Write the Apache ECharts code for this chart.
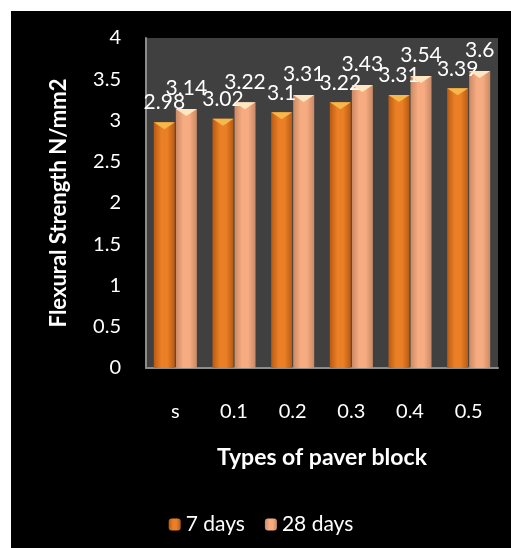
<!DOCTYPE html>
<html>
<head>
<meta charset="utf-8">
<script src="https://cdn.jsdelivr.net/npm/echarts@6/dist/echarts.min.js"></script>
<style>
  html, body { margin: 0; padding: 0; background: #fff; }
  #chart { position: absolute; left: 11px; top: 11px; width: 500px; height: 537px; background: #000; }
</style>
</head>
<body>
<div id="chart"></div>
<script>
  // 数据
  const categories = ['s', '0.1', '0.2', '0.3', '0.4', '0.5'];
  const days7 = [2.98, 3.02, 3.1, 3.22, 3.31, 3.39];
  const days28 = [3.14, 3.22, 3.31, 3.43, 3.54, 3.6];
  const seriesNames = ['7 days', '28 days'];

  const font = 'Lato, "Open Sans", sans-serif';

  // 柱体横向渐变
  function barGrad(edge, mid) {
    return new echarts.graphic.LinearGradient(0, 0, 1, 0, [
      { offset: 0, color: edge },
      { offset: 0.35, color: mid },
      { offset: 0.65, color: mid },
      { offset: 1, color: edge }
    ]);
  }
  const orange = barGrad('#b85a14', '#ea7f25');
  const peach = barGrad('#c98a66', '#f6ab80');

  const chart = echarts.init(document.getElementById('chart'));
  chart.setOption({
    backgroundColor: '#000',
    animation: false,
    grid: { left: 135, right: 13, top: 27, bottom: 180, backgroundColor: '#404040', show: true, borderWidth: 0 },
    legend: {
      bottom: 8,
      left: 'center',
      itemWidth: 12,
      itemHeight: 12,
      itemGap: 20,
      data: seriesNames,
      textStyle: { color: '#fff', fontSize: 21, fontFamily: font }
    },
    xAxis: {
      type: 'category',
      data: categories,
      name: 'Types of paver block',
      nameLocation: 'middle',
      nameGap: 78,
      nameTextStyle: { color: '#fff', fontSize: 23, fontWeight: 'bold', fontFamily: font },
      axisLine: { lineStyle: { color: '#8c8c8c', width: 2 } },
      axisTick: { show: false },
      axisLabel: { color: '#fff', fontSize: 20, fontFamily: font, margin: 34 }
    },
    yAxis: {
      type: 'value',
      min: 0,
      max: 4,
      interval: 0.5,
      name: 'Flexural Strength N/mm2',
      nameLocation: 'middle',
      nameGap: 76,
      nameTextStyle: { color: '#fff', fontSize: 22, fontWeight: 'bold', fontFamily: font },
      axisLine: { show: true, lineStyle: { color: '#8c8c8c', width: 2 } },
      axisTick: { show: false },
      splitLine: { show: false },
      axisLabel: { color: '#fff', fontSize: 20, fontFamily: font, margin: 25 }
    },
    series: [
      {
        name: seriesNames[0],
        type: 'bar',
        data: days7,
        barWidth: 21,
        barGap: '5%',
        itemStyle: { color: orange },
        label: { show: true, position: 'top', distance: 9, color: '#fff', fontSize: 21, fontFamily: font }
      },
      {
        name: seriesNames[1],
        type: 'bar',
        data: days28,
        barWidth: 21,
        barGap: '5%',
        itemStyle: { color: peach },
        label: { show: true, position: 'top', distance: 10, color: '#fff', fontSize: 21, fontFamily: font }
      },
      {
        type: 'pictorialBar',
        data: days7,
        symbol: 'triangle',
        symbolRotate: 180,
        symbolSize: [21, 7],
        symbolPosition: 'end',
        barGap: '5%',
        itemStyle: { color: '#f6b84a' },
        silent: true,
        z: 3
      },
      {
        type: 'pictorialBar',
        data: days28,
        symbol: 'triangle',
        symbolRotate: 180,
        symbolSize: [21, 7],
        symbolPosition: 'end',
        barGap: '5%',
        itemStyle: { color: '#ffe7c4' },
        silent: true,
        z: 3
      }
    ]
  });
</script>
</body>
</html>
